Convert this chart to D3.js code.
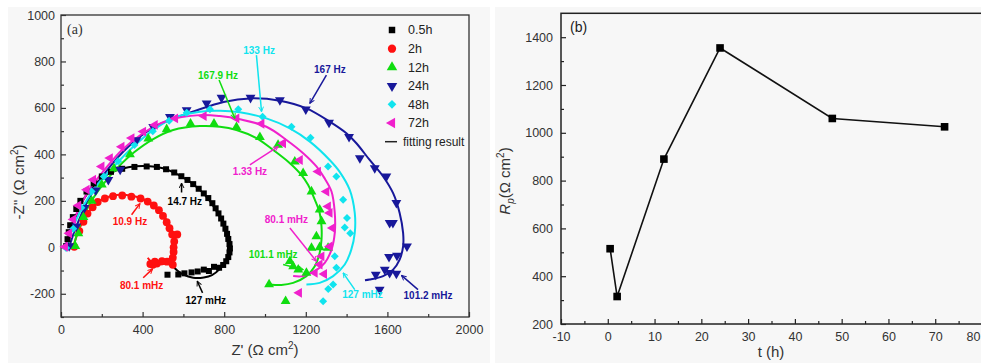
<!DOCTYPE html>
<html><head><meta charset="utf-8">
<script src="https://cdn.jsdelivr.net/npm/d3@7"></script>
<style>
body{margin:0;background:#fff;}
svg{display:block;font-family:Arial,"Liberation Sans",sans-serif;}
</style></head>
<body><svg id="c" width="981" height="363"></svg>
<script>
// ---------- Panel (a) data: Nyquist plots (Z', -Z'') ----------
const seriesNames = ["0.5h","2h","12h","24h","48h","72h"];
const pts05h = [[25,5],[32,35],[38,65],[45,95],[58,130],[75,165],[95,200],[125,240],[160,275],[200,305],[245,325],[300,338],[360,346],[420,348],[470,346],[515,336],[555,322],[590,306],[620,290],[648,272],[675,252],[700,232],[722,212],[742,190],[758,168],[772,146],[785,124],[796,102],[806,80],[814,58],[820,36],[826,14],[828,-5],[826,-22],[820,-42],[810,-60],[795,-76],[775,-88],[750,-84],[725,-102],[700,-96],[670,-104],[640,-108],[605,-112],[575,-117],[522,-118]];
const pts2h = [[65,2],[90,70],[110,110],[130,145],[155,172],[180,195],[215,210],[255,220],[300,223],[345,218],[390,210],[425,197],[455,180],[480,160],[500,135],[518,108],[532,82],[545,55],[570,55],[555,25],[552,0],[552,-20],[548,-45],[548,-75],[520,-62],[495,-60],[470,-70],[450,-75],[438,-72],[460,-62]];
const pts12h = [[70,5],[85,60],[110,130],[150,200],[200,270],[260,340],[338,400],[428,468],[518,508],[635,532],[750,532],[860,517],[975,474],[1064,441],[1146,369],[1187,319],[1228,240],[1268,162],[1277,112],[1252,47],[1228,-3],[1309,-3],[1268,0],[1122,-60],[1138,-82],[1163,-96],[1203,-110],[1020,-160],[1101,-232]];
const pts24h = [[40,5],[75,90],[115,170],[170,245],[232,290],[290,335],[370,462],[452,519],[534,562],[616,591],[714,620],[787,644],[929,644],[1073,634],[1200,594],[1314,537],[1412,476],[1465,384],[1538,341],[1595,305],[1644,191],[1611,105],[1627,105],[1696,4],[1647,-36],[1608,-41],[1587,-96],[1611,-110],[1644,-113],[1543,-117],[1562,-182]];
const pts48h = [[25,-3],[60,80],[100,170],[150,240],[210,305],[280,370],[360,440],[450,500],[530,545],[616,579],[730,594],[869,594],[988,562],[1130,519],[1223,472],[1309,348],[1350,305],[1383,205],[1402,126],[1391,85],[1418,60],[1342,-39],[1350,-88],[1334,-160],[1285,-232],[1310,-180]];
const pts72h = [[20,2],[40,60],[60,120],[85,180],[126,248],[158,291],[199,348],[240,384],[297,433],[346,470],[403,498],[460,527],[560,555],[700,565],[860,555],[983,532],[1089,448],[1171,376],[1260,326],[1301,240],[1309,176],[1317,148],[1331,83],[1317,4],[1277,-39],[1268,-74],[1244,-110],[1290,-115],[1167,-196]];

// fitting results
const fit05h = [[30,0],[60,100],[100,190],[160,265],[240,320],[330,345],[420,350],[500,340],[580,310],[650,270],[710,220],[760,160],[800,95],[820,30],[824,-10],[810,-55],[780,-92],[740,-120],[700,-130],[648,-131],[600,-118],[570,-100],[540,-72]];
const fit2h = [[60,0],[90,80],[130,145],[180,195],[250,222],[320,225],[390,212],[450,185],[500,140],[535,90],[555,40],[560,0],[555,-35],[535,-60],[500,-72],[465,-72],[440,-60],[425,-45]];
const fit12h = [[60,0],[80,60],[110,130],[150,200],[210,275],[280,345],[360,410],[450,465],[550,505],[681,522],[779,519],[860,505],[958,470],[1040,419],[1122,362],[1180,310],[1211,269],[1244,205],[1268,148],[1277,90],[1277,33],[1268,-24],[1244,-82],[1203,-124],[1138,-153],[1080,-162],[1024,-160]];
const fit24h = [[40,0],[69,76],[134,205],[215,319],[330,433],[460,519],[623,577],[803,627],[926,641],[1073,631],[1203,598],[1317,541],[1399,491],[1448,448],[1513,376],[1579,305],[1628,233],[1660,148],[1677,62],[1677,4],[1660,-53],[1628,-96],[1579,-124],[1513,-139],[1490,-142]];
const fit48h = [[25,0],[60,90],[110,180],[170,260],[250,340],[350,430],[460,510],[560,560],[681,584],[779,588],[877,581],[1007,555],[1122,512],[1220,455],[1317,376],[1366,325],[1415,248],[1440,148],[1440,62],[1423,-10],[1391,-74],[1334,-124],[1268,-153],[1203,-160]];
const fit72h = [[20,0],[50,90],[90,170],[140,250],[210,330],[300,420],[400,490],[520,545],[681,569],[779,565],[877,551],[1007,519],[1105,462],[1187,405],[1252,348],[1290,300],[1326,240],[1342,148],[1342,62],[1326,-10],[1293,-67],[1244,-103],[1187,-124],[1138,-124]];

const zReTicks = [0,400,800,1200,1600,2000];
const zImTicks = [-200,0,200,400,600,800,1000];

// annotations: label, text position, arrow from, arrow to (data units)
const annoLabels = ["133 Hz","167.9 Hz","167 Hz","1.33 Hz","14.7 Hz","10.9 Hz","80.1 mHz","127 mHz","80.1 mHz","101.1 mHz","127 mHz","101.2 mHz"];
const annoSeries = [4,2,3,5,0,1,1,0,5,2,4,3];
const annoText = [[971,848],[770,741],[1318,766],[926,326],[607,197],[338,112],[395,-164],[710,-227],[1105,119],[1040,-31],[1478,-203],[1799,-206]];
const annoFrom = [[958,827],[775,720],[1301,741],[926,355],[591,236],[346,140],[403,-131],[694,-196],[1122,83],[1089,-74],[1440,-182],[1750,-182]];
const annoTo = [[983,584],[852,555],[1220,620],[1064,433],[591,276],[387,188],[449,-93],[668,-146],[1252,-60],[1187,-96],[1383,-110],[1669,-121]];

// ---------- Panel (b) data ----------
const times = [0.5,2,12,24,48,72];
const rp = [515,315,890,1355,1060,1025];
const tTicks = [-10,0,10,20,30,40,50,60,70,80];
const rpTicks = [200,400,600,800,1000,1200,1400];

// ---------- drawing ----------
const svg = d3.select("#c");
const colors = ["#000000","#ff1010","#10dd10","#18189a","#10e4ee","#f020cc"];
const markerPts = [pts05h,pts2h,pts12h,pts24h,pts48h,pts72h];
const fitPts = [fit05h,fit2h,fit12h,fit24h,fit48h,fit72h];
const fmt = d => String(d);

// backgrounds
svg.append("rect").attr("x",8).attr("y",7).attr("width",482).attr("height",356).attr("fill","#f7f7f7");
svg.append("rect").attr("x",495).attr("y",7).attr("width",486).attr("height",356).attr("fill","#f7f7f7");

// arrow markers
const defs = svg.append("defs");
colors.forEach((c,i)=>{
  defs.append("marker").attr("id","ar"+i).attr("viewBox","0 0 10 10").attr("refX",9).attr("refY",5)
    .attr("markerWidth",6).attr("markerHeight",6).attr("orient","auto-start-reverse").attr("markerUnits","userSpaceOnUse")
    .append("path").attr("d","M1,1 L9,5 L1,9").attr("fill","none").attr("stroke",c).attr("stroke-width",1.6);
});

// ===== Panel (a) =====
const L = {l:61,r:469,t:15,b:317};
const xa = d3.scaleLinear().domain([0,2000]).range([L.l,L.r]);
const ya = d3.scaleLinear().domain([-300,1000]).range([L.b,L.t]);

const ga = svg.append("g");
ga.append("g").attr("transform",`translate(0,${L.b})`)
  .call(d3.axisBottom(xa).tickValues(zReTicks).tickSize(-5).tickPadding(8).tickFormat(fmt));
ga.append("g").attr("transform",`translate(0,${L.b})`)
  .call(d3.axisBottom(xa).tickValues(d3.range(200,2000,400)).tickSize(-3).tickFormat(""));
ga.append("g").attr("transform",`translate(${L.l},0)`)
  .call(d3.axisLeft(ya).tickValues(zImTicks).tickSize(-5).tickPadding(6).tickFormat(fmt));
ga.append("g").attr("transform",`translate(${L.l},0)`)
  .call(d3.axisLeft(ya).tickValues(d3.range(-300,1000,200)).tickSize(-3).tickFormat(""));
ga.selectAll(".domain").remove();
ga.selectAll(".tick line").attr("stroke","#333").attr("stroke-width",1.2);
ga.selectAll(".tick text").attr("font-size",12.5).attr("fill","#333").attr("font-family","Arial, 'Liberation Sans', sans-serif");
ga.append("rect").attr("x",L.l).attr("y",L.t).attr("width",L.r-L.l).attr("height",L.b-L.t)
  .attr("fill","none").attr("stroke","#333").attr("stroke-width",1.3);

const symT = [d3.symbolSquare,d3.symbolCircle,d3.symbolTriangle,d3.symbolTriangle,d3.symbolSquare,d3.symbolTriangle];
const symRot = [0,0,0,180,45,-90];
const symSize = [36,48,42,42,32,42];
const plotA = ga.append("g");
const lineA = d3.line().x(d=>xa(d[0])).y(d=>ya(d[1])).curve(d3.curveCatmullRom.alpha(0.5));
fitPts.forEach((p,i)=>{
  plotA.append("path").attr("d",lineA(p)).attr("fill","none").attr("stroke",colors[i]).attr("stroke-width",2);
});
markerPts.forEach((p,i)=>{
  plotA.append("g").selectAll("path").data(p).join("path")
    .attr("d",d3.symbol().type(symT[i]).size(symSize[i]))
    .attr("transform",d=>`translate(${xa(d[0])},${ya(d[1])}) rotate(${symRot[i]})`)
    .attr("fill",colors[i]);
});

annoLabels.forEach((t,i)=>{
  const c = colors[annoSeries[i]];
  plotA.append("line").attr("x1",xa(annoFrom[i][0])).attr("y1",ya(annoFrom[i][1]))
    .attr("x2",xa(annoTo[i][0])).attr("y2",ya(annoTo[i][1]))
    .attr("stroke",c).attr("stroke-width",1.5).attr("marker-end",`url(#ar${annoSeries[i]})`);
  plotA.append("text").attr("x",xa(annoText[i][0])).attr("y",ya(annoText[i][1])).attr("dy","0.35em")
    .attr("text-anchor","middle").attr("font-size",10).attr("font-weight","bold").attr("fill",c).text(t);
});

const legY = [30,48.7,67.3,86,104.3,123];
seriesNames.forEach((n,i)=>{
  ga.append("path").attr("d",d3.symbol().type(symT[i]).size(symSize[i]+6)())
    .attr("transform",`translate(392,${legY[i]}) rotate(${symRot[i]})`).attr("fill",colors[i]);
  ga.append("text").attr("x",408).attr("y",legY[i]).attr("dy","0.35em").attr("font-size",12.5).attr("fill","#222").text(n);
});
ga.append("line").attr("x1",385).attr("x2",397).attr("y1",141.7).attr("y2",141.7).attr("stroke","#222").attr("stroke-width",1.5);
ga.append("text").attr("x",403).attr("y",141.7).attr("dy","0.35em").attr("font-size",12).attr("fill","#222").text("fitting result");

ga.append("text").attr("x",67).attr("y",34).attr("font-family","'Liberation Serif','DejaVu Serif',serif").attr("font-size",14).attr("fill","#333").text("(a)");

const xt = ga.append("text").attr("x",265).attr("y",355).attr("text-anchor","middle").attr("font-size",15).attr("fill","#333");
xt.append("tspan").text("Z' (Ω cm");
xt.append("tspan").attr("font-size",10).attr("dy",-6).text("2");
xt.append("tspan").attr("dy",6).text(")");
const yt = ga.append("text").attr("transform","translate(24,182) rotate(-90)").attr("text-anchor","middle").attr("font-size",15).attr("fill","#333");
yt.append("tspan").text("-Z'' (Ω cm");
yt.append("tspan").attr("font-size",10).attr("dy",-6).text("2");
yt.append("tspan").attr("dy",6).text(")");

// ===== Panel (b) =====
const R = {l:561,r:982,t:13.3,b:324};
const xb = d3.scaleLinear().domain([-10,80]).range([R.l,R.r]);
const yb = d3.scaleLinear().domain([200,1500]).range([R.b,R.t]);
const gb = svg.append("g");
const bx = gb.append("g").attr("transform",`translate(0,${R.b})`)
  .call(d3.axisBottom(xb).tickValues(tTicks).tickSize(-5).tickPadding(8).tickFormat(fmt));
// keep the last label inside the picture
bx.selectAll(".tick text").filter(d=>d===80).attr("text-anchor","end").attr("x",-2);
gb.append("g").attr("transform",`translate(0,${R.b})`)
  .call(d3.axisBottom(xb).tickValues(d3.range(-5,80,10)).tickSize(-3).tickFormat(""));
gb.append("g").attr("transform",`translate(${R.l},0)`)
  .call(d3.axisLeft(yb).tickValues(rpTicks).tickSize(-5).tickPadding(8).tickFormat(fmt));
gb.append("g").attr("transform",`translate(${R.l},0)`)
  .call(d3.axisLeft(yb).tickValues(d3.range(300,1500,200)).tickSize(-3).tickFormat(""));
gb.selectAll(".domain").remove();
gb.selectAll(".tick line").attr("stroke","#222").attr("stroke-width",1.2);
gb.selectAll(".tick text").attr("font-size",12.5).attr("fill","#333").attr("font-family","Arial, 'Liberation Sans', sans-serif");
gb.append("rect").attr("x",R.l).attr("y",R.t).attr("width",R.r-R.l).attr("height",R.b-R.t)
  .attr("fill","none").attr("stroke","#222").attr("stroke-width",1.5);

const rpData = times.map((t,i)=>[t,rp[i]]);
gb.append("path").attr("d",d3.line().x(d=>xb(d[0])).y(d=>yb(d[1]))(rpData))
  .attr("fill","none").attr("stroke","#111").attr("stroke-width",1.6);
gb.selectAll(".pt").data(rpData).join("rect").attr("class","pt")
  .attr("x",d=>xb(d[0])-3.8).attr("y",d=>yb(d[1])-3.8).attr("width",7.6).attr("height",7.6).attr("fill","#000");

gb.append("text").attr("x",570).attr("y",32).attr("font-size",14).attr("fill","#222").text("(b)");
gb.append("text").attr("x",771).attr("y",357).attr("text-anchor","middle").attr("font-size",15).attr("fill","#333").text("t (h)");
const yt2 = gb.append("text").attr("transform","translate(510,181) rotate(-90)").attr("text-anchor","middle").attr("font-size",15).attr("fill","#333");
yt2.append("tspan").attr("font-style","italic").text("R");
yt2.append("tspan").attr("font-size",10).attr("font-style","italic").attr("dy",4).text("p");
yt2.append("tspan").attr("dy",-4).text("(Ω cm");
yt2.append("tspan").attr("font-size",10).attr("dy",-6).text("2");
yt2.append("tspan").attr("dy",6).text(")");
</script></body></html>
